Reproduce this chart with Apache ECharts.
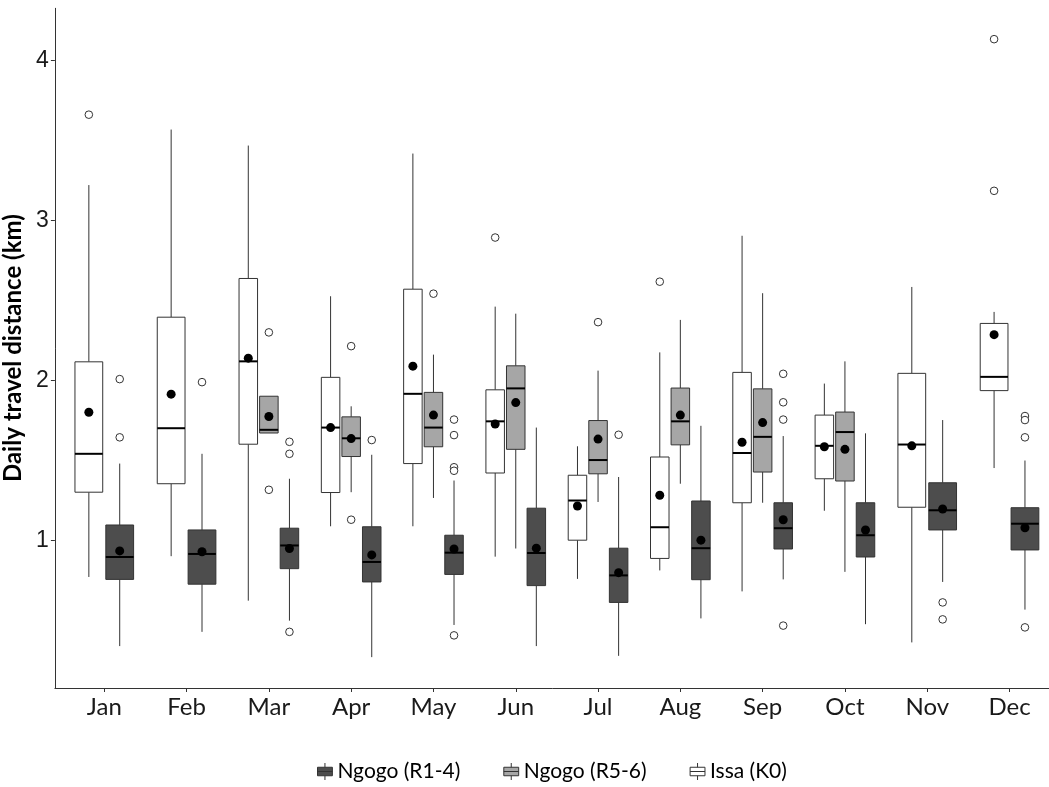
<!DOCTYPE html>
<html>
<head>
<meta charset="utf-8">
<script src="https://cdn.jsdelivr.net/npm/echarts@6/dist/echarts.min.js"></script>
<style>
  html, body { margin: 0; padding: 0; background: #fff; }
  #main { width: 1049px; height: 787px; }
</style>
</head>
<body>
<div id="main"></div>
<script>
const months = ['Jan', 'Feb', 'Mar', 'Apr', 'May', 'Jun', 'Jul', 'Aug', 'Sep', 'Oct', 'Nov', 'Dec']
const yTicks = [1, 2, 3, 4]

// [min, q1, median, q3, max]
const issaBox = [
  [0.77, 1.30, 1.54, 2.115, 3.22],
  [0.90, 1.353, 1.70, 2.394, 3.567],
  [0.622, 1.60, 2.118, 2.636, 3.467],
  [1.087, 1.298, 1.704, 2.018, 2.525],
  [1.087, 1.479, 1.915, 2.569, 3.417],
  [0.897, 1.42, 1.743, 1.94, 2.46],
  [0.758, 1.0, 1.248, 1.406, 1.587],
  [0.811, 0.886, 1.081, 1.52, 2.174],
  [0.68, 1.234, 1.545, 2.049, 2.903],
  [1.184, 1.384, 1.59, 1.782, 1.979],
  [0.361, 1.206, 1.598, 2.043, 2.583],
  [1.451, 1.935, 2.021, 2.355, 2.427]
]
const issaMean = [1.80, 1.913, 2.138, 1.704, 2.088, 1.726, 1.214, 1.281, 1.612, 1.584, 1.59, 2.285]
const issaOut = [[3.66], [], [], [], [], [2.892], [], [2.616], [], [], [], [4.132, 3.184]]

const r56Box = [
  null,
  null,
  [1.67, 1.67, 1.69, 1.90, 1.90],
  [1.30, 1.523, 1.637, 1.771, 1.837],
  [1.264, 1.584, 1.704, 1.924, 2.16],
  [0.948, 1.568, 1.949, 2.09, 2.416],
  [1.239, 1.415, 1.501, 1.748, 2.06],
  [1.353, 1.596, 1.743, 1.951, 2.377],
  [1.234, 1.426, 1.646, 1.946, 2.544],
  [0.802, 1.37, 1.676, 1.801, 2.118],
  null,
  null
]
const r56Mean = [null, null, 1.773, 1.635, 1.782, 1.86, 1.632, 1.782, 1.735, 1.568, null, null]
const r56Out = [[], [], [2.299, 1.315], [2.213, 1.128], [2.541], [], [2.363], [], [], [], [], []]

const r14Box = [
  [0.338, 0.755, 0.895, 1.095, 1.479],
  [0.427, 0.725, 0.914, 1.064, 1.54],
  [0.497, 0.822, 0.967, 1.075, 1.384],
  [0.269, 0.739, 0.864, 1.084, 1.534],
  [0.47, 0.786, 0.922, 1.031, 1.373],
  [0.338, 0.716, 0.92, 1.20, 1.704],
  [0.277, 0.611, 0.78, 0.95, 1.395],
  [0.511, 0.753, 0.95, 1.245, 1.715],
  [0.755, 0.945, 1.075, 1.234, 1.651],
  [0.475, 0.895, 1.031, 1.234, 1.668],
  [0.739, 1.064, 1.187, 1.359, 1.751],
  [0.566, 0.939, 1.103, 1.203, 1.498]
]
const r14Mean = [0.933, 0.928, 0.948, 0.908, 0.945, 0.95, 0.797, 1.0, 1.128, 1.064, 1.195, 1.078]
const r14Out = [
  [2.007, 1.643], [1.988], [1.615, 1.54, 0.427], [1.626],
  [1.754, 1.657, 1.456, 1.434, 0.405], [], [1.659], [],
  [2.04, 1.862, 1.754, 0.466], [], [0.611, 0.505], [1.776, 1.751, 1.643, 0.455]
]

// dodge order inside a month: left to right
const groups = [
  { name: 'Issa (K0)', box: issaBox, mean: issaMean, out: issaOut, fill: '#ffffff' },
  { name: 'Ngogo (R5-6)', box: r56Box, mean: r56Mean, out: r56Out, fill: '#a6a6a6' },
  { name: 'Ngogo (R1-4)', box: r14Box, mean: r14Mean, out: r14Out, fill: '#4d4d4d' }
]

const lineCol = '#333333'

function makeRender(g) {
  return function (params, api) {
    const m = api.value(0)
    const present = groups.filter(function (x) { return x.box[m] != null })
    const n = present.length
    const slot = present.indexOf(g)
    const band = api.size([1, 0])[0]
    const dodge = band * 0.75
    const sw = dodge / n
    const cx = api.coord([m + 1, 0])[0] - dodge / 2 + sw * (slot + 0.5)
    const bw = sw * 0.9
    const y = function (v) { return api.coord([m + 1, v])[1] }
    const b = g.box[m]
    const children = [
      { type: 'line', shape: { x1: cx, y1: y(b[0]), x2: cx, y2: y(b[1]) }, style: { stroke: lineCol, lineWidth: 1 } },
      { type: 'line', shape: { x1: cx, y1: y(b[3]), x2: cx, y2: y(b[4]) }, style: { stroke: lineCol, lineWidth: 1 } },
      { type: 'rect', shape: { x: cx - bw / 2, y: y(b[3]), width: bw, height: y(b[1]) - y(b[3]) }, style: { fill: g.fill, stroke: lineCol, lineWidth: 1 } },
      { type: 'line', shape: { x1: cx - bw / 2, y1: y(b[2]), x2: cx + bw / 2, y2: y(b[2]) }, style: { stroke: '#000', lineWidth: 2 } }
    ]
    g.out[m].forEach(function (v) {
      children.push({ type: 'circle', shape: { cx: cx, cy: y(v), r: 3.8 }, style: { fill: '#fff', stroke: lineCol, lineWidth: 1 } })
    })
    children.push({ type: 'circle', shape: { cx: cx, cy: y(g.mean[m]), r: 4.5 }, style: { fill: '#000' } })
    return { type: 'group', children: children }
  }
}

const boxIcon = 'path://M0,4 L14,4 L14,12 L0,12 Z M0,8 L14,8 M7,0 L7,4 M7,12 L7,16'

const chart = echarts.init(document.getElementById('main'))
const option = {
  backgroundColor: '#fff',
  animation: false,
  grid: { left: 54.9, top: 8.3, width: 1004, height: 679.7, outerBoundsMode: 'none', containLabel: false },
  legend: {
    bottom: 0,
    left: 312,
    itemWidth: 15,
    itemHeight: 17,
    itemGap: 43,
    itemStyle: { borderColor: lineCol, borderWidth: 1 },
    textStyle: { fontFamily: 'Lato', fontSize: 21, color: '#000' },
    data: [
      { name: 'Ngogo (R1-4)', icon: boxIcon },
      { name: 'Ngogo (R5-6)', icon: boxIcon },
      { name: 'Issa (K0)', icon: boxIcon }
    ]
  },
  xAxis: {
    type: 'value',
    min: 0.4,
    max: 12.6,
    splitLine: { show: false },
    axisLine: { lineStyle: { color: lineCol, width: 1 } },
    axisTick: { show: true, length: 4, customValues: months.map(function (d, i) { return i + 1 }), lineStyle: { color: lineCol } },
    axisLabel: {
      customValues: months.map(function (d, i) { return i + 1 }),
      formatter: function (v) { return months[Math.round(v) - 1] },
      fontFamily: 'Lato', fontSize: 24, color: '#1a1a1a', margin: 7
    }
  },
  yAxis: {
    type: 'value',
    min: 0.076,
    max: 4.325,
    name: 'Daily travel distance (km)',
    nameLocation: 'middle',
    nameRotate: 90,
    nameGap: 20,
    nameTextStyle: { fontFamily: 'Lato', fontSize: 24, fontWeight: 'bold', color: '#000' },
    splitLine: { show: false },
    axisLine: { show: true, lineStyle: { color: lineCol, width: 1 } },
    axisTick: { show: true, length: 4, customValues: yTicks, lineStyle: { color: lineCol } },
    axisLabel: {
      customValues: yTicks,
      fontFamily: 'Liberation Sans', fontSize: 23, color: '#1a1a1a', margin: 6
    }
  },
  series: groups.map(function (g) {
    return {
      name: g.name,
      type: 'custom',
      itemStyle: { color: g.fill, borderColor: lineCol },
      renderItem: makeRender(g),
      encode: { x: 0, y: [1, 5] },
      data: g.box.map(function (b, i) { return b ? [i].concat(b) : null }).filter(function (d) { return d })
    }
  })
}
chart.setOption(option)
</script>
</body>
</html>
